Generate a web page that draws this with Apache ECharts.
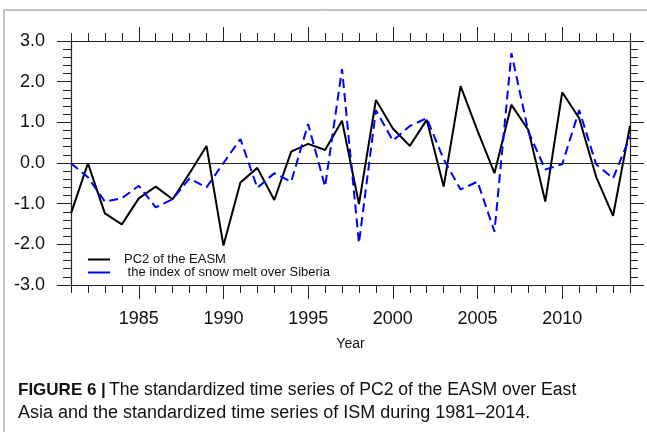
<!DOCTYPE html>
<html style="height: 100%">
<head>
    <meta charset="utf-8">
</head>
<body style="height: 100%; margin: 0; background: #fff">
<div id="container" style="width: 647px; height: 432px"></div>
<script type="text/javascript" src="https://cdn.jsdelivr.net/npm/echarts@6/dist/echarts.min.js"></script>
<script type="text/javascript">
    var years = [];
    for (var y = 1981; y <= 2014; y++) years.push(String(y));

    // PC2 of the EASM (black solid)
    var pc2 = [-1.24, -0.01, -1.24, -1.51, -0.87, -0.58, -0.89, -0.25, 0.42, -2.03,
        -0.48, -0.12, -0.91, 0.28, 0.47, 0.32, 1.04, -1.01, 1.55, 0.85,
        0.42, 1.06, -0.58, 1.89, 0.79, -0.25, 1.43, 0.81, -0.95, 1.74,
        1.10, -0.34, -1.30, 0.91];
    // snow melt index over Siberia (blue dashed)
    var snowMelt = [-0.01, -0.35, -0.95, -0.87, -0.56, -1.09, -0.89, -0.38, -0.60, 0.00,
        0.59, -0.61, -0.25, -0.46, 0.96, -0.58, 2.31, -1.97, 1.30, 0.55,
        0.91, 1.10, 0.09, -0.65, -0.46, -1.69, 2.70, 0.77, -0.16, -0.03,
        1.30, -0.03, -0.38, 0.65];

    var seriesNames = ['PC2 of the EASM', ' the index of snow melt over Siberia'];

    var dom = document.getElementById("container");
    var myChart = echarts.init(dom);

    var axisColor = '#222';
    function isMajor(i, v) { return Number(v) % 5 === 0; }

    function xAx(pos, len, major, labels) {
        return {
            type: 'category',
            position: pos,
            data: years,
            boundaryGap: false,
            axisLine: {show: true, onZero: false, lineStyle: {color: axisColor, width: 1.2}},
            axisTick: {
                show: true,
                length: len,
                interval: major ? isMajor : 0,
                lineStyle: {color: axisColor, width: 1}
            },
            axisLabel: labels ? {
                show: true,
                interval: isMajor,
                margin: 25,
                fontSize: 18,
                color: '#111',
                fontFamily: 'Liberation Sans'
            } : {show: false},
            splitLine: {show: false}
        };
    }

    function yAx(pos, labels) {
        return {
            type: 'value',
            position: pos,
            min: -3,
            max: 3,
            interval: 1,
            axisLine: {show: true, onZero: false, lineStyle: {color: axisColor, width: 1.2}},
            axisTick: {show: true, length: 14, lineStyle: {color: axisColor, width: 1}},
            minorTick: {show: true, splitNumber: 5, length: 8, lineStyle: {color: axisColor, width: 1}},
            axisLabel: labels ? {
                show: true,
                margin: 26,
                fontSize: 18,
                color: '#111',
                fontFamily: 'Liberation Sans',
                formatter: function (v) { return v.toFixed(1); }
            } : {show: false},
            splitLine: {show: false}
        };
    }

    var xMain = xAx('bottom', 8, false, true);
    xMain.name = 'Year';
    xMain.nameLocation = 'middle';
    xMain.nameGap = 52;
    xMain.nameTextStyle = {fontSize: 14, color: '#111', fontFamily: 'Liberation Sans'};

    var option = {
        animation: false,
        grid: {left: 71, right: 17, top: 41, bottom: 147},
        xAxis: [
            xMain,
            xAx('bottom', 14, true, false),
            xAx('top', 8, false, false),
            xAx('top', 14, true, false)
        ],
        yAxis: [yAx('left', true), yAx('right', false)],
        legend: {
            orient: 'vertical',
            left: 83,
            top: 248,
            itemWidth: 22,
            itemHeight: 10,
            itemGap: 0,
            icon: 'path://M0,4 L22,4 L22,6 L0,6 Z',
            textStyle: {fontSize: 13, lineHeight: 12, color: '#111', fontFamily: 'Liberation Sans', padding: [0, 0, 0, 9]},
            data: seriesNames
        },
        series: [
            {
                name: seriesNames[0],
                type: 'line',
                data: pc2,
                symbol: 'none',
                color: '#000',
                lineStyle: {color: '#000', width: 2},
                markLine: {
                    silent: true,
                    symbol: 'none',
                    label: {show: false},
                    lineStyle: {color: axisColor, width: 1.2, type: 'solid'},
                    data: [{yAxis: 0}]
                }
            },
            {
                name: seriesNames[1],
                type: 'line',
                data: snowMelt,
                symbol: 'none',
                color: '#0000ff',
                lineStyle: {color: '#0000ff', width: 2, type: [9, 5]}
            }
        ],
        graphic: [
            {type: 'line', shape: {x1: 4, y1: 10, x2: 647, y2: 10}, style: {stroke: '#888', lineWidth: 1}},
            {type: 'line', shape: {x1: 4, y1: 10, x2: 4, y2: 432}, style: {stroke: '#888', lineWidth: 1}},
            {
                type: 'text', left: 18, top: 381,
                style: {
                    text: '{b|FIGURE 6 |}The standardized time series of PC2 of the EASM over East',
                    font: '17.6px "Liberation Sans"',
                    fill: '#111',
                    rich: {b: {fontWeight: 'bold', fontSize: 17, fontFamily: 'Liberation Sans', fill: '#111', padding: [0, 3, 0, 0]}}
                }
            },
            {
                type: 'text', left: 18, top: 404,
                style: {
                    text: 'Asia and the standardized time series of ISM during 1981\u20132014.',
                    font: '18px "Liberation Sans"',
                    fill: '#111'
                }
            }
        ]
    };

    myChart.setOption(option);
</script>
</body>
</html>
